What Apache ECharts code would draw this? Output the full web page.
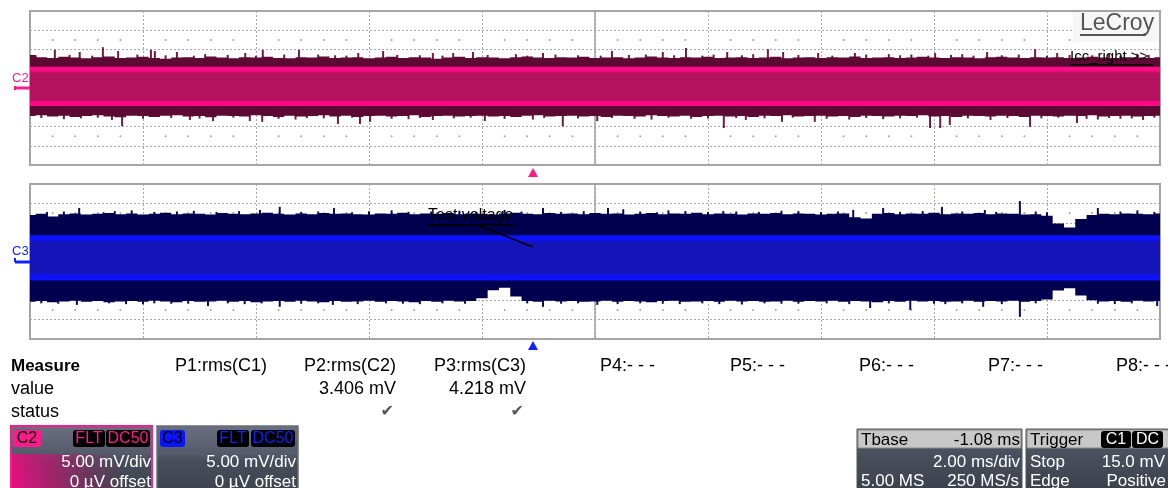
<!DOCTYPE html>
<html><head><meta charset="utf-8">
<script src="https://cdn.jsdelivr.net/npm/echarts@6/dist/echarts.min.js"></script>
<style>html,body{margin:0;padding:0;background:#fff}#c{width:1168px;height:488px}</style>
</head><body><div id="c"></div>
<script>
// ---- time base: envelope samples every 0.2 ms from -10 ms (10 div x 2 ms/div)
const stepMs = 0.2;
const tStart = -10;

// ---- C2 (top trace) envelope, mV
const c2Top = [
8.6,8.0,7.8,8.1,7.9,7.7,8.0,8.2,7.8,7.9,
8.1,7.8,7.6,7.9,8.0,7.8,8.2,7.9,7.7,8.0,
7.9,8.1,7.8,7.7,8.0,7.9,8.2,7.8,7.9,8.0,
7.7,7.9,8.1,7.8,8.0,7.9,7.6,7.9,8.1,7.8,
8.0,7.9,7.7,8.0,8.2,7.9,7.8,8.0,7.9,8.1,
7.8,7.9,8.0,7.7,7.9,8.2,7.9,7.8,8.0,7.9,
8.1,7.8,7.9,8.0,7.8,7.9,8.1,7.7,7.9,8.0,
7.8,8.0,7.9,8.2,7.8,7.9,8.0,7.8,7.9,8.1,
7.9,7.8,8.0,7.9,7.7,8.0,8.1,7.9,7.8,8.0,
7.9,8.0,7.8,7.9,8.1,7.9,7.8,8.0,7.9,7.8,8.0];
const c2Bot = [
-7.3,-7.1,-7.4,-7.2,-7.5,-7.3,-7.1,-7.4,-7.6,-7.2,
-7.3,-7.5,-7.2,-7.1,-7.4,-7.3,-7.6,-7.2,-7.3,-7.4,
-7.1,-7.3,-7.5,-7.2,-7.4,-7.3,-7.1,-7.4,-7.2,-7.5,
-7.3,-7.2,-7.4,-7.3,-7.1,-7.5,-7.3,-7.2,-7.4,-7.3,
-7.2,-7.4,-7.3,-7.5,-7.2,-7.1,-7.4,-7.3,-7.2,-7.4,
-7.3,-7.5,-7.2,-7.3,-7.4,-7.1,-7.3,-7.4,-7.2,-7.5,
-7.3,-7.2,-7.4,-7.3,-7.5,-7.2,-7.3,-7.1,-7.4,-7.3,
-7.2,-7.4,-7.3,-7.5,-7.2,-7.3,-7.4,-7.2,-7.3,-7.1,
-7.4,-7.3,-7.5,-7.2,-7.3,-7.4,-7.2,-7.3,-7.5,-7.2,
-7.3,-7.4,-7.2,-7.3,-7.1,-7.4,-7.3,-7.2,-7.4,-7.3,-7.2];
// bright density band [low, high], mV
const c2Band = [-4.7, 5.5];
// peaks beyond the envelope: [time ms, mV]
const c2SpikesUp = [[-9.56,9.9],[-9.12,9.35],[-8.71,10.6],[-8.44,9.6],[-7.86,9.9],[-7.79,9.6],[-7.40,9.35],
[-6.9,8.8],[-6.19,9.1],[-5.88,9.9],[-5.24,9.9],[-4.9,8.7],[-4.19,9.1],[-3.75,9.6],[-2.87,9.1],[-2.51,9.1],
[-2.16,9.35],[-1.4,8.8],[-0.92,9.1],[0.30,9.6],[0.9,8.7],[1.20,9.35],[1.61,10.4],[2.34,9.35],[2.8,8.8],
[3.06,10.1],[3.33,9.35],[3.95,9.1],[4.60,9.1],[5.2,8.8],[5.6,8.7],[6.02,9.1],[6.5,8.8],[6.94,9.35],
[7.79,10.1],[8.18,9.1],[9.1,8.8],[9.6,8.9],
[-9.9,8.5],[-9.3,8.6],[-8.9,8.4],[-8.1,8.7],[-7.6,8.5],[-7.1,8.4],[-6.5,8.6],[-6.0,8.4],[-5.5,8.7],[-4.6,8.5],
[-4.4,8.4],[-3.5,8.6],[-3.1,8.5],[-2.7,8.4],[-1.9,8.6],[-1.2,8.4],[-0.7,8.7],[-0.3,8.5],[0.1,8.4],[0.6,8.6],
[1.4,8.5],[1.9,8.4],[2.1,8.7],[2.6,8.5],[3.6,8.6],[4.2,8.4],[4.8,8.7],[5.4,8.5],[5.9,8.4],[6.3,8.6],[6.7,8.4],
[7.2,8.5],[7.5,8.7],[8.0,8.4],[8.4,8.6],[8.8,8.5],[9.3,8.4],[9.8,8.6]];
const c2SpikesDn = [[-9.4,-8.1],[-8.55,-8.3],[-8.37,-9.9],[-7.17,-8.3],[-6.76,-8.6],[-6.11,-8.6],[-5.89,-8.8],
[-5.3,-8.2],[-4.55,-9.35],[-4.16,-9.35],[-3.98,-8.8],[-3.3,-8.1],[-2.87,-8.3],[-1.95,-8.6],[-1.1,-8.2],
[-0.57,-9.9],[0.04,-8.6],[1.0,-8.2],[1.7,-8.0],[2.28,-10.4],[2.67,-8.3],[3.31,-8.8],[3.89,-8.8],[4.5,-8.2],
[5.1,-8.1],[5.93,-10.4],[6.11,-10.4],[6.28,-9.6],[7.0,-8.3],[7.70,-10.1],[8.53,-9.1],[8.9,-8.2],[9.3,-8.0],[9.70,-8.3],
[-9.8,-7.8],[-9.1,-7.9],[-8.8,-7.7],[-8.0,-8.0],[-7.5,-7.8],[-7.0,-7.9],[-6.4,-7.7],[-5.6,-8.0],[-5.1,-7.8],
[-4.8,-7.9],[-4.3,-7.7],[-3.6,-8.0],[-3.1,-7.8],[-2.5,-7.9],[-2.2,-7.7],[-1.6,-8.0],[-0.9,-7.8],[-0.3,-7.9],
[0.3,-7.8],[0.7,-8.0],[1.3,-7.7],[2.0,-7.9],[2.5,-7.8],[3.0,-7.9],[3.5,-7.7],[4.1,-8.0],[4.8,-7.8],[5.4,-7.9],
[5.7,-7.7],[6.6,-7.9],[7.3,-7.8],[7.9,-7.9],[8.2,-7.7],[8.7,-8.0],[9.1,-7.8],[9.5,-7.9],[9.9,-7.7]];

// ---- C3 (bottom trace) envelope, mV
const c3Top = [
12.0,12.3,11.6,12.2,12.4,12.1,12.3,12.5,12.2,12.4,
12.1,12.3,12.6,12.2,12.4,12.3,12.1,12.5,12.3,12.2,
12.4,12.6,12.3,12.1,12.4,12.2,12.5,12.3,12.4,12.2,
12.1,12.4,12.3,12.6,12.2,12.4,12.3,12.5,12.2,12.4,
12.3,12.1,12.4,12.6,12.3,12.2,12.5,12.3,12.4,12.2,
12.5,12.3,12.4,12.1,12.3,12.5,12.2,12.4,12.3,12.6,
12.2,12.4,12.3,12.1,12.4,12.3,12.5,12.2,12.4,12.3,
12.1,12.3,12.4,11.4,11.1,12.3,12.5,12.2,12.4,12.3,
12.6,12.2,12.4,12.3,12.5,12.2,12.4,12.3,12.1,12.2,
11.8,9.8,8.8,11.0,12.0,12.3,12.2,12.4,12.3,12.2,12.4];
const c3Bot = [
-10.4,-10.2,-10.5,-10.3,-10.1,-10.4,-10.2,-10.5,-10.3,-10.2,
-10.4,-10.1,-10.3,-10.5,-10.2,-10.4,-10.3,-10.1,-10.4,-10.2,
-10.5,-10.3,-10.2,-10.4,-10.1,-10.3,-10.5,-10.2,-10.4,-10.3,
-10.1,-10.4,-10.2,-10.3,-10.5,-10.2,-10.4,-10.1,-10.3,-10.2,
-9.5,-7.4,-6.8,-9.0,-10.2,-10.4,-10.1,-10.3,-10.2,-10.4,
-10.3,-10.1,-10.4,-10.2,-10.3,-10.5,-10.2,-10.1,-10.4,-10.3,
-10.2,-10.4,-10.1,-10.3,-10.2,-10.4,-10.3,-10.1,-10.4,-10.2,
-10.3,-10.1,-10.4,-10.2,-10.3,-10.5,-10.2,-10.4,-10.1,-10.3,
-10.2,-10.4,-10.3,-10.1,-10.4,-10.2,-10.3,-10.1,-10.4,-10.2,
-9.8,-7.5,-6.9,-8.8,-10.0,-10.3,-10.2,-10.4,-10.1,-10.3,-10.2];
const c3Band = [-4.9, 6.8];
const c3SpikesUp = [[-9.13,13.8],[-8.2,13.2],[-7.1,13.1],[-5.93,13.3],[-5.58,14.1],[-4.62,13.8],[-3.6,13.2],
[-2.4,13.1],[-1.6,13.3],[-0.92,13.8],[0.23,13.8],[0.50,13.5],[1.3,13.2],[2.27,13.0],[3.3,13.1],[4.57,13.3],
[5.10,13.8],[6.14,14.1],[6.9,13.3],[7.52,15.6],[8.90,13.8],[9.6,13.2],
[-9.7,12.8],[-9.4,12.9],[-8.7,12.7],[-8.5,13.0],[-7.8,12.8],[-7.4,12.9],[-6.7,12.8],[-6.3,13.0],[-5.2,12.8],
[-4.9,12.9],[-4.3,12.7],[-4.0,13.0],[-3.3,12.8],[-2.9,12.9],[-2.1,12.8],[-1.3,12.9],[-0.6,12.8],[-0.2,13.0],
[0.8,12.9],[1.1,12.7],[1.6,13.0],[2.0,12.8],[2.5,12.9],[2.9,12.8],[3.6,13.0],[4.0,12.8],[4.3,12.9],[5.4,12.8],
[5.8,13.0],[6.5,12.9],[7.1,12.8],[7.8,12.9],[8.0,12.7],[9.3,12.9],[9.9,12.8]];
const c3SpikesDn = [[-9.17,-11.2],[-8.0,-11.0],[-7.5,-10.9],[-6.85,-11.5],[-5.58,-11.7],[-4.64,-11.2],[-3.1,-11.0],
[-2.3,-10.9],[-0.92,-11.7],[0.04,-11.2],[1.5,-11.0],[2.6,-11.1],[3.6,-10.9],[4.87,-12.0],[5.58,-12.5],
[6.2,-11.0],[6.87,-11.7],[7.52,-14.3],[9.2,-11.0],[9.95,-11.5],
[-9.8,-10.8],[-9.5,-10.9],[-8.6,-10.8],[-8.3,-11.0],[-7.8,-10.8],[-7.2,-10.9],[-6.5,-10.8],[-6.2,-11.0],
[-5.9,-10.8],[-5.2,-10.9],[-4.9,-10.8],[-4.2,-11.0],[-3.7,-10.8],[-3.4,-10.9],[-2.7,-10.8],[-1.2,-10.8],
[-0.6,-10.9],[-0.3,-10.8],[0.4,-11.0],[0.8,-10.8],[1.2,-10.9],[1.9,-10.8],[2.2,-11.0],[3.0,-10.8],[3.3,-10.9],
[4.1,-10.8],[4.5,-11.0],[5.2,-10.8],[6.0,-10.9],[6.5,-10.8],[7.2,-11.0],[7.8,-10.8],[8.9,-10.9],[9.5,-10.8]];

// ---- measurement table texts
const measureRows = ['Measure', 'value', 'status'];
const measureHeads = ['P1:rms(C1)', 'P2:rms(C2)', 'P3:rms(C3)'];
const measureValues = ['', '3.406 mV', '4.218 mV'];
const measureStatus = ['', '\u2714', '\u2714'];
const emptyParams = ['P4:- - -', 'P5:- - -', 'P6:- - -', 'P7:- - -', 'P8:- - -'];

// ---- axis scales
const xMin = -10, xMax = 10, xDiv = 2;
const yMin = -20, yMax = 20, yDiv = 5;

const FONT = '"Liberation Sans", Arial, sans-serif';
const PINK = '#ff1a8c', BLUE = '#1020ff';

function envelopeItem(top, bot, fill) {
  return function (params, api) {
    const pts = [];
    const n = top.length;
    for (let i = 0; i < n; i++) {
      const t = tStart + i * stepMs;
      const a = Math.max(xMin, t - stepMs / 2), b = Math.min(xMax, t + stepMs / 2);
      pts.push(api.coord([a, top[i]]), api.coord([b, top[i]]));
    }
    for (let i = n - 1; i >= 0; i--) {
      const t = tStart + i * stepMs;
      const a = Math.max(xMin, t - stepMs / 2), b = Math.min(xMax, t + stepMs / 2);
      pts.push(api.coord([b, bot[i]]), api.coord([a, bot[i]]));
    }
    return { type: 'polygon', shape: { points: pts }, style: { fill: fill } };
  };
}
function spikeItem(color) {
  return function (params, api) {
    const p0 = api.coord([api.value(0), 0]);
    const p1 = api.coord([api.value(0), api.value(1)]);
    return { type: 'rect', shape: { x: p0[0] - 1, y: Math.min(p0[1], p1[1]), width: 2, height: Math.abs(p1[1] - p0[1]) }, style: { fill: color } };
  };
}
function bandItem(band, bright, mid) {
  return function (params, api) {
    const p0 = api.coord([xMin, band[1]]), p1 = api.coord([xMax, band[0]]);
    return { type: 'rect', shape: { x: p0[0], y: p0[1], width: p1[0] - p0[0], height: p1[1] - p0[1] },
      style: { fill: { type: 'linear', x: 0, y: 0, x2: 0, y2: 1, colorStops: [
        { offset: 0, color: bright }, { offset: 0.09, color: bright }, { offset: 0.16, color: mid },
        { offset: 0.84, color: mid }, { offset: 0.9, color: bright }, { offset: 1, color: bright }] } } };
  };
}
function centerLineItem(params, api) {
  const p0 = api.coord([0, yMax]), p1 = api.coord([0, yMin]);
  return { type: 'line', shape: { x1: p0[0], y1: p0[1], x2: p1[0], y2: p1[1] }, style: { stroke: '#a0a0a0', lineWidth: 1.5 } };
}
// minor grid dots half a division outside the +-10 mV lines, 5 per x division
function minorDots() {
  const out = [];
  const nMinor = (xMax - xMin) / xDiv * 5;
  for (let k = 1; k < nMinor; k++) {
    if (k % 5 === 0) continue;
    const t = xMin + k * xDiv / 5;
    out.push([t, 2.5 * yDiv], [t, -2.5 * yDiv]);
  }
  return out;
}

function axesFor(i) {
  const split = { show: true, lineStyle: { color: '#a8a8a8', type: [2, 2], width: 1 } };
  return {
    x: { gridIndex: i, type: 'value', min: xMin, max: xMax, interval: xDiv, axisLine: { show: false }, axisTick: { show: false }, axisLabel: { show: false }, splitLine: split },
    y: { gridIndex: i, type: 'value', min: yMin, max: yMax, interval: yDiv, axisLine: { show: false }, axisTick: { show: false }, axisLabel: { show: false }, splitLine: split }
  };
}
const a0 = axesFor(0), a1 = axesFor(1);

function traceSeries(idx, top, bot, band, up, dn, dark, spikeCol, bright, mid) {
  const base = { type: 'custom', xAxisIndex: idx, yAxisIndex: idx, silent: true, encode: { x: 0, y: 1 } };
  return [
    Object.assign({}, base, { z: 1, data: [[0, 0]], renderItem: centerLineItem }),
    Object.assign({}, base, { type: 'scatter', z: 1, data: minorDots(), symbolSize: 2, itemStyle: { color: '#8c8c8c' } }),
    Object.assign({}, base, { z: 2, data: up, renderItem: spikeItem(spikeCol) }),
    Object.assign({}, base, { z: 2, data: dn, renderItem: spikeItem(spikeCol) }),
    Object.assign({}, base, { z: 3, data: [[0, 0]], renderItem: envelopeItem(top, bot, dark) }),
    Object.assign({}, base, { z: 4, data: [[0, 0]], renderItem: bandItem(band, bright, mid) })
  ];
}

function txt(text, x, y, opt) {
  opt = opt || {};
  const align = opt.align || 'left';
  return { type: 'text', z: 100, style: { text: text, x: x, y: y, fill: opt.fill || '#000',
    font: (opt.weight || 'normal') + ' ' + (opt.size || 18) + 'px ' + (opt.family || FONT),
    align: align, verticalAlign: 'middle', textAlign: align, textVerticalAlign: 'middle' } };
}
function rect(x, y, w, h, fill, stroke, lw, r) {
  return { type: 'rect', z: 99, shape: { x: x, y: y, width: w, height: h, r: r || 0 }, style: { fill: fill, stroke: stroke || null, lineWidth: lw || 0 } };
}
function line(x1, y1, x2, y2, stroke, lw) {
  return { type: 'line', z: 100, shape: { x1: x1, y1: y1, x2: x2, y2: y2 }, style: { stroke: stroke, lineWidth: lw } };
}
function badge(x, y, w, text, bg, fg) {
  return [rect(x, y, w, 17, bg, null, 0, 3), txt(text, x + w / 2, y + 9, { align: 'center', fill: fg, size: 16 })];
}

const graphics = [];
// logo and trace annotations
graphics.push(rect(1073, 12, 86, 30, '#f6f6f6'));
graphics.push(txt('LeCroy', 1080, 24, { fill: '#555', size: 23 }));
graphics.push(line(1080, 35, 1146, 35, '#555', 2));
graphics.push(txt('Icc_right >>', 1070, 57, { size: 15 }));
graphics.push(line(1070, 65, 1153, 65, '#000', 1.5));
graphics.push(txt('Test voltage', 428, 216, { size: 16 }));
graphics.push(line(428, 225, 515, 225, '#000', 1.5));
graphics.push(line(477, 225, 533, 247, '#000', 1.5));
// channel markers
graphics.push(txt('C2', 12, 78, { fill: PINK, size: 13 }));
graphics.push(line(15, 88, 30, 88, PINK, 3));
graphics.push(line(15, 86, 15, 90, PINK, 2));
graphics.push(txt('C3', 12, 251, { fill: BLUE, size: 13 }));
graphics.push(line(15, 262, 30, 262, BLUE, 3));
graphics.push(line(15, 258, 15, 262, BLUE, 2));
// trigger position triangles
graphics.push({ type: 'polygon', z: 100, shape: { points: [[528, 177], [538, 177], [533, 168]] }, style: { fill: PINK } });
graphics.push({ type: 'polygon', z: 100, shape: { points: [[528, 350], [538, 350], [533, 341]] }, style: { fill: BLUE } });

// measurement table
const rowY = [366, 389, 412];
graphics.push(txt(measureRows[0], 11, rowY[0], { weight: 'bold', size: 17 }));
graphics.push(txt(measureRows[1], 11, rowY[1]));
graphics.push(txt(measureRows[2], 11, rowY[2]));
const colRight = [267, 396, 526];
measureHeads.forEach((h, i) => {
  graphics.push(txt(h, colRight[i], rowY[0], { align: 'right' }));
  if (measureValues[i]) graphics.push(txt(measureValues[i], colRight[i], rowY[1], { align: 'right' }));
  if (measureStatus[i]) graphics.push(txt(measureStatus[i], colRight[i] - 2, rowY[2], { align: 'right', fill: '#555', size: 16, family: '"DejaVu Sans", sans-serif' }));
});
const emptyLeft = [600, 730, 859, 988, 1116];
emptyParams.forEach((p, i) => graphics.push(txt(p, emptyLeft[i], rowY[0])));

// channel boxes
const grayBody = { type: 'linear', x: 0, y: 0, x2: 0, y2: 1, colorStops: [
  { offset: 0, color: '#6a7080' }, { offset: 0.4, color: '#555b6a' }, { offset: 0.5, color: '#474d5a' }, { offset: 1, color: '#3c414c' }] };
graphics.push(rect(11, 426, 141, 70, grayBody, PINK, 2));
graphics.push(rect(12, 454, 139, 34, { type: 'linear', x: 0, y: 1, x2: 0.75, y2: 0, colorStops: [
  { offset: 0, color: 'rgba(235,15,130,1)' }, { offset: 0.45, color: 'rgba(200,20,115,0.6)' }, { offset: 1, color: 'rgba(180,20,110,0)' }] }));
graphics.push(...badge(13, 430, 28, 'C2', PINK, '#000'));
graphics.push(...badge(73, 430, 32, 'FLT', '#000', PINK));
graphics.push(...badge(106, 430, 44, 'DC50', '#000', PINK));
graphics.push(txt('5.00 mV/div', 151, 462, { align: 'right', fill: '#fff', size: 17 }));
graphics.push(txt('0 \u00b5V offset', 151, 482, { align: 'right', fill: '#fff', size: 17 }));

graphics.push(rect(157, 426, 141, 70, grayBody, '#6a6e78', 1.5));
graphics.push(...badge(160, 430, 25, 'C3', '#0a14ff', '#000'));
graphics.push(...badge(217, 430, 32, 'FLT', '#000', BLUE));
graphics.push(...badge(251, 430, 44, 'DC50', '#000', BLUE));
graphics.push(txt('5.00 mV/div', 296, 462, { align: 'right', fill: '#fff', size: 17 }));
graphics.push(txt('0 \u00b5V offset', 296, 482, { align: 'right', fill: '#fff', size: 17 }));

// timebase box
const darkBody = { type: 'linear', x: 0, y: 0, x2: 0, y2: 1, colorStops: [
  { offset: 0, color: '#707a8e' }, { offset: 0.3, color: '#4c5260' }, { offset: 1, color: '#3a3f4a' }] };
graphics.push(rect(857, 429, 165, 65, darkBody, '#555', 1));
graphics.push(rect(858, 430, 163, 18, '#c8c8c8', '#8a8a8a', 1));
graphics.push(txt('Tbase', 861, 440, { size: 17 }));
graphics.push(txt('-1.08 ms', 1020, 440, { align: 'right', size: 17 }));
graphics.push(txt('2.00 ms/div', 1020, 462, { align: 'right', fill: '#fff', size: 17 }));
graphics.push(txt('5.00 MS', 861, 481, { fill: '#fff', size: 17 }));
graphics.push(txt('250 MS/s', 1019, 481, { align: 'right', fill: '#fff', size: 17 }));
// trigger box
graphics.push(rect(1026, 429, 145, 65, darkBody, '#555', 1));
graphics.push(rect(1027, 430, 143, 18, '#c8c8c8', '#8a8a8a', 1));
graphics.push(txt('Trigger', 1030, 440, { size: 17 }));
graphics.push(...badge(1101, 431, 30, 'C1', '#000', '#fff'));
graphics.push(...badge(1132, 431, 31, 'DC', '#000', '#fff'));
graphics.push(txt('Stop', 1030, 462, { fill: '#fff', size: 17 }));
graphics.push(txt('15.0 mV', 1165, 462, { align: 'right', fill: '#fff', size: 17 }));
graphics.push(txt('Edge', 1030, 481, { fill: '#fff', size: 17 }));
graphics.push(txt('Positive', 1166, 481, { align: 'right', fill: '#fff', size: 17 }));

const chart = echarts.init(document.getElementById('c'), null, { renderer: 'canvas' });
chart.setOption({
  animation: false,
  backgroundColor: '#fff',
  grid: [
    { left: 30, top: 11, width: 1130, height: 154, show: true, borderColor: '#a4a4a4', borderWidth: 2, backgroundColor: '#fff' },
    { left: 30, top: 184, width: 1130, height: 155, show: true, borderColor: '#a4a4a4', borderWidth: 2, backgroundColor: '#fff' }
  ],
  xAxis: [a0.x, a1.x],
  yAxis: [a0.y, a1.y],
  series: [].concat(
    traceSeries(0, c2Top, c2Bot, c2Band, c2SpikesUp, c2SpikesDn, '#5c0934', '#6e1a46', '#ff0a86', '#b4125f'),
    traceSeries(1, c3Top, c3Bot, c3Band, c3SpikesUp, c3SpikesDn, '#00004e', '#0a0a58', '#0a12ff', '#1414b8')
  ),
  graphic: graphics
});
</script></body></html>
